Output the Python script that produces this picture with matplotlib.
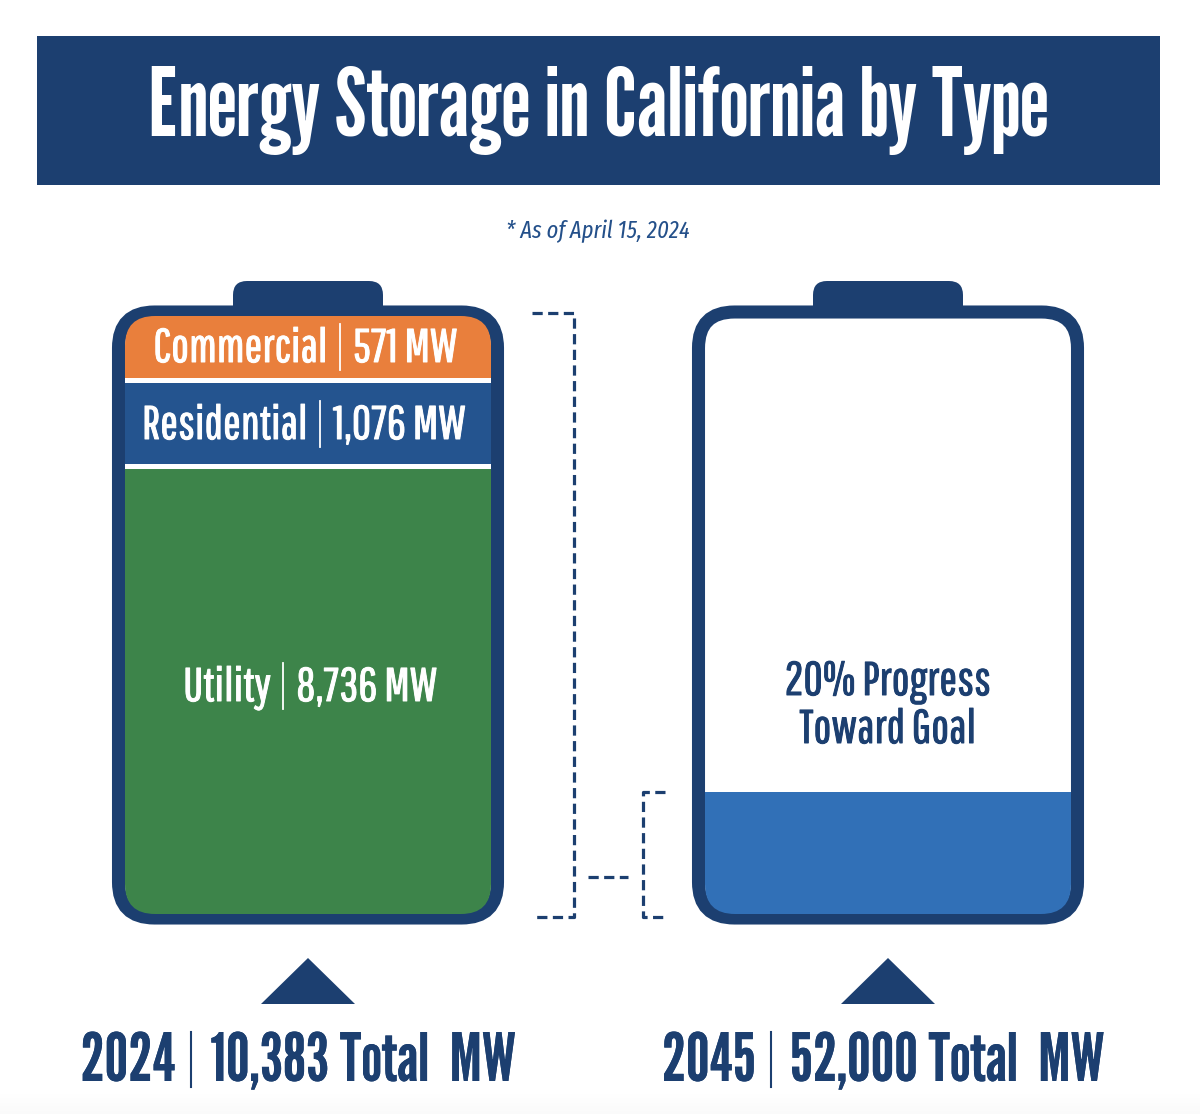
import numpy as np
import matplotlib
matplotlib.use("Agg")
import matplotlib.pyplot as plt
import matplotlib.patheffects as pe
from matplotlib.patches import FancyBboxPatch, Polygon, Rectangle

W, H = 1200, 1114
NAVY = "#1c3f70"
HEAVY = ["League Gothic", "Fira Sans Extra Condensed", "DejaVu Sans"]
LIGHT = ["Pathway Gothic One", "Fira Sans Extra Condensed", "DejaVu Sans"]
ITALIC = ["Fira Sans Extra Condensed", "DejaVu Sans"]

title = "Energy Storage in California by Type"
note = "* As of April 15, 2024"

# share of the battery height each block takes in the picture (not to scale with MW)
seg_names = ["Utility", "Residential", "Commercial"]
seg_mw = ["8,736 MW", "1,076 MW", "571 MW"]
seg_share = [74.9, 14.4, 10.7]
seg_colors = ["#3d844a", "#24548f", "#e97f3c"]

progress = 20.4
progress_lines = ["20% Progress", "Toward Goal"]
years = ["2024", "2045"]
totals = ["10,383 Total  MW", "52,000 Total  MW"]

fig = plt.figure(figsize=(W / 100, H / 100), dpi=100)


def pixel_axes(z):
    a = fig.add_axes([0, 0, 1, 1], zorder=z)
    a.set_xlim(0, W)
    a.set_ylim(H, 0)
    a.axis("off")
    a.patch.set_alpha(0)
    return a


bg = pixel_axes(0)
top = pixel_axes(5)


def rounded(x0, y0, x1, y1, r, **kw):
    return FancyBboxPatch((x0 + r, y0 + r), x1 - x0 - 2 * r, y1 - y0 - 2 * r,
                          boxstyle="round,pad=%g,rounding_size=%g" % (r, r), **kw)


def thick(color, w=0.7):
    # Pathway Gothic only comes in one weight, so fatten it a little
    return [pe.withStroke(linewidth=w, foreground=color)]


def split_label(xpipe, y, left, right, size, color, family, gaps=(12, 13), up=38, down=8, lw=1.3, stroke=0.7):
    for x, s, ha in [(xpipe - gaps[0], left, "right"), (xpipe + gaps[1], right, "left")]:
        top.text(x, y, s, ha=ha, va="baseline", fontsize=size, color=color, family=family,
                 path_effects=thick(color, stroke))
    top.plot([xpipe, xpipe], [y - up, y + down], color=color, lw=lw)


def draw_battery(x0, fill_fn):
    x1 = x0 + 392
    bg.add_patch(rounded(x0 + 121, 281, x0 + 271, 330, 14, fc=NAVY, ec="none", zorder=1))
    bg.add_patch(rounded(x0 + 6.5, 312, x1 - 6.5, 918, 36, fc="white", ec=NAVY, lw=9.4, zorder=2))
    ax = fig.add_axes([(x0 + 13) / W, 1 - 914 / H, 366 / W, 598 / H], zorder=3)
    ax.set_xlim(-0.5, 0.5)
    ax.set_ylim(0, 100)
    ax.axis("off")
    ax.patch.set_alpha(0)
    clip = rounded(x0 + 13, 316, x1 - 13, 914, 30, transform=bg.transData)
    fill_fn(ax, clip)


def fill_left(ax, clip):
    bottoms = np.concatenate([[0], np.cumsum(seg_share)[:-1]])
    bars = ax.bar(0, seg_share, bottom=bottoms, width=1, color=seg_colors)
    for b in bars:
        b.set_clip_path(clip)
    for y in bottoms[1:]:
        ax.axhline(y, color="white", lw=3.6)


def fill_right(ax, clip):
    bars = ax.bar(0, [progress], width=1, color="#3170b7")
    for b in bars:
        b.set_clip_path(clip)


# banner
bg.add_patch(Rectangle((37, 36), 1123, 149, fc=NAVY, ec="none"))
top.text(598, 136, title, ha="center", va="baseline", color="white", fontsize=68, family=HEAVY)
top.text(598, 238, note, ha="center", va="baseline", color="#24508a", fontsize=17.5, fontstyle="italic", family=ITALIC)

draw_battery(112, fill_left)
draw_battery(692, fill_right)

# labels inside batteries
split_label(340, 362, seg_names[2], seg_mw[2], 34, "white", LIGHT)
split_label(320, 439, seg_names[1], seg_mw[1], 34, "white", LIGHT)
split_label(283, 701, seg_names[0], seg_mw[0], 34, "white", LIGHT)
for y, line in zip([695, 743], progress_lines):
    top.text(888, y, line, ha="center", va="baseline", color=NAVY, fontsize=34, family=LIGHT,
             path_effects=thick(NAVY))

# dashed brackets between the batteries
dash = dict(color=NAVY, lw=2.3, ls=(0, (3.2, 1.7)), zorder=1)
bg.plot([532, 574, 574, 532], [313, 313, 917, 917], **dash)
bg.plot([588, 628], [877, 877], **dash)
bg.plot([665, 643, 643, 665], [792, 792, 917, 917], **dash)

# arrows and totals
for xc, xpipe, year, total in zip([308, 888], [191, 771], years, totals):
    bg.add_patch(Polygon([(xc - 47, 1004), (xc + 47, 1004), (xc, 958)], fc=NAVY, ec="none"))
    split_label(xpipe, 1081, year, total, 48, NAVY, HEAVY, gaps=(15, 19), up=49, down=6, lw=1.5, stroke=0)

# faint grey strip along the bottom of the screenshot
fade = np.linspace(0, 1, 20).reshape(-1, 1)
bg.imshow(fade, cmap="Greys", vmin=0, vmax=25, extent=(0, W, 1114, 1092), aspect="auto", zorder=0)
bg.set_xlim(0, W)
bg.set_ylim(H, 0)

fig.savefig("out.png", dpi=100)
